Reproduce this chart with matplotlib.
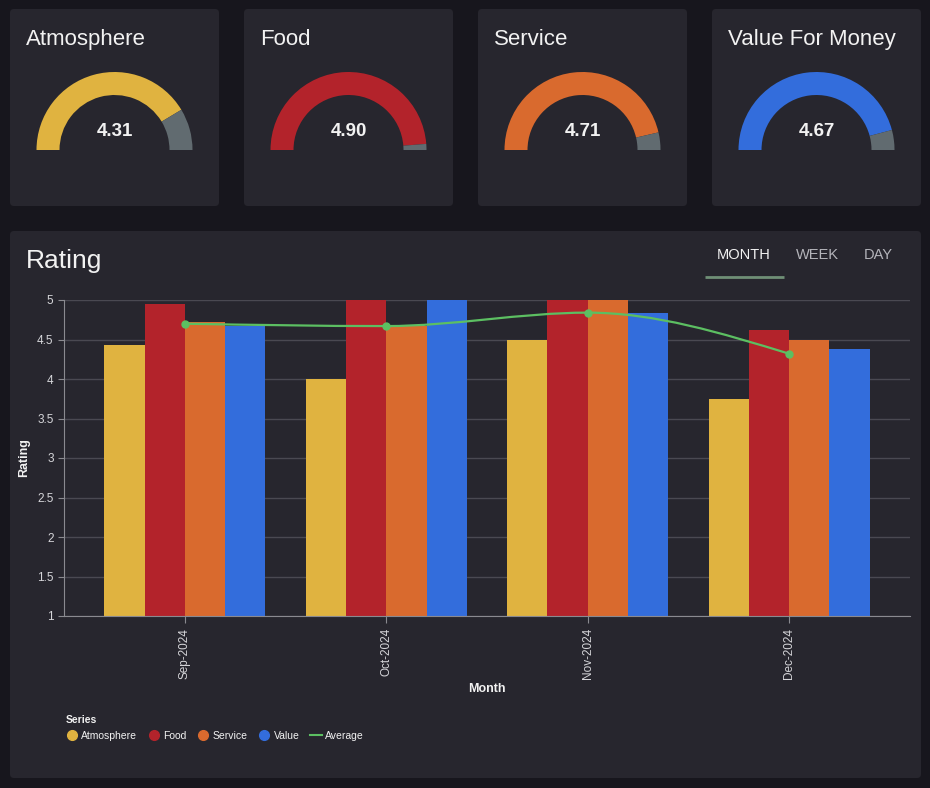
import numpy as np
import matplotlib
matplotlib.use("Agg")
import matplotlib.pyplot as plt
from matplotlib.patches import FancyBboxPatch, Wedge, PathPatch
from matplotlib.path import Path
from matplotlib.lines import Line2D

plt.rcParams["font.family"] = ["Liberation Sans", "DejaVu Sans"]

# gauge cards
gauge_titles = ["Atmosphere", "Food", "Service", "Value For Money"]
gauge_values = [4.31, 4.90, 4.71, 4.67]
gauge_min, gauge_max = 1, 5

# bar chart
months = ["Sep-2024", "Oct-2024", "Nov-2024", "Dec-2024"]
atmosphere = [4.43, 4.00, 4.50, 3.75]
food = [4.95, 5.00, 5.00, 4.62]
service = [4.72, 4.67, 5.00, 4.50]
value = [4.67, 5.00, 4.83, 4.38]
average = [4.70, 4.67, 4.84, 4.32]
series_names = ["Atmosphere", "Food", "Service", "Value"]
y_ticks = [1, 1.5, 2, 2.5, 3, 3.5, 4, 4.5, 5]
tabs = ["MONTH", "WEEK", "DAY"]

COLORS = ["#e0b340", "#b3232b", "#d96a2e", "#336ddc"]
GRAY = "#616b70"
GREEN = "#5cbf62"
BG = "#17161d"
CARD = "#27262e"
TEXT = "#f2f2f2"
MUTED = "#d6d6da"
GRID = "#4a4952"


def monotone_path(xs, ys):
    """Cubic bezier path through points using monotone-x tangents."""
    xs = np.asarray(xs, float)
    ys = np.asarray(ys, float)
    h = np.diff(xs)
    s = np.diff(ys) / h
    t = np.zeros(len(xs))
    for i in range(1, len(xs) - 1):
        p = (s[i - 1] * h[i] + s[i] * h[i - 1]) / (h[i - 1] + h[i])
        t[i] = (np.sign(s[i - 1]) + np.sign(s[i])) * min(abs(s[i - 1]), abs(s[i]), 0.5 * abs(p))
    t[0] = (3 * s[0] - t[1]) / 2
    t[-1] = (3 * s[-1] - t[-2]) / 2
    verts = [(xs[0], ys[0])]
    codes = [Path.MOVETO]
    for i in range(len(xs) - 1):
        d = h[i] / 3
        verts += [(xs[i] + d, ys[i] + t[i] * d),
                  (xs[i + 1] - d, ys[i + 1] - t[i + 1] * d),
                  (xs[i + 1], ys[i + 1])]
        codes += [Path.CURVE4] * 3
    return Path(verts, codes)


fig = plt.figure(figsize=(9.3, 7.88), dpi=100, facecolor=BG)

# background layer in pixel coordinates
bg = fig.add_axes([0, 0, 1, 1], zorder=0)
bg.set_xlim(0, 930)
bg.set_ylim(788, 0)
bg.axis("off")
bg.set_facecolor(BG)

card_w, card_h, step = 209, 197, 234
for i, (title, val) in enumerate(zip(gauge_titles, gauge_values)):
    x0 = 10 + i * step
    bg.add_patch(FancyBboxPatch((x0, 9), card_w, card_h,
                                boxstyle="round,pad=0,rounding_size=4",
                                fc=CARD, ec="none"))
    bg.text(x0 + 16, 39, title, color=TEXT, fontsize=16, va="center", ha="left")
    cx, cy = x0 + card_w / 2, 150
    frac = (val - gauge_min) / (gauge_max - gauge_min)
    split = 180 + frac * 180
    bg.add_patch(Wedge((cx, cy), 78, 180, split, width=23, fc=COLORS[i], ec="none"))
    bg.add_patch(Wedge((cx, cy), 78, split, 360, width=23, fc=GRAY, ec="none"))
    bg.text(cx, 131, f"{val:.2f}", color=TEXT, fontsize=13.5, fontweight="bold",
            ha="center", va="center")

# main panel
bg.add_patch(FancyBboxPatch((10, 231), 911, 547,
                            boxstyle="round,pad=0,rounding_size=4",
                            fc=CARD, ec="none"))
bg.text(26, 261, "Rating", color=TEXT, fontsize=19, va="center", ha="left")
for name, tx in zip(tabs, [744, 817, 878]):
    bg.text(tx, 255, name, color=TEXT if name == "MONTH" else "#b4b4ba",
            fontsize=10.5, ha="center", va="center")
bg.plot([705, 784], [277, 277], color="#6f8f76", lw=2, solid_capstyle="butt")

# bar chart
ax = fig.add_axes([64 / 930, 1 - 616 / 788, 846 / 930, 316 / 788], zorder=1)
ax.set_facecolor("none")
x = np.arange(len(months))
width = 0.2
for k, (vals, c) in enumerate(zip([atmosphere, food, service, value], COLORS)):
    ax.bar(x + (k - 1.5) * width, np.array(vals) - 1, width, bottom=1,
           color=c, zorder=2, linewidth=0)

ax.add_patch(PathPatch(monotone_path(x, average), fill=False,
                       edgecolor=GREEN, lw=1.6, zorder=3))
ax.plot(x, average, "o", color=GREEN, ms=5, zorder=4)

ax.set_xlim(-0.6, 3.6)
ax.set_ylim(1, 5)
ax.set_yticks(y_ticks)
ax.set_yticklabels([f"{t:g}" for t in y_ticks])
ax.set_xticks(x)
ax.set_xticklabels(months, rotation=90)
ax.grid(axis="y", color=GRID, lw=1, zorder=0)
ax.set_axisbelow(True)
for side in ["top", "right"]:
    ax.spines[side].set_visible(False)
for side in ["left", "bottom"]:
    ax.spines[side].set_color("#8a8a90")
ax.tick_params(axis="y", colors=MUTED, labelsize=8.5, length=4, color="#8a8a90")
ax.tick_params(axis="x", colors=MUTED, labelsize=8.5, length=5, color="#8a8a90")
ax.set_xlabel("Month", color=TEXT, fontsize=9, fontweight="bold", labelpad=3)
ax.set_ylabel("Rating", color=TEXT, fontsize=9, fontweight="bold", labelpad=5)

handles = [Line2D([], [], ls="none", marker="o", ms=7, color=c) for c in COLORS]
handles.append(Line2D([], [], color=GREEN, lw=1.5))
leg = fig.legend(handles, series_names + ["Average"], title="Series",
                 loc="lower left", bbox_to_anchor=(56 / 930, 1 - 750 / 788),
                 ncol=5, frameon=False, fontsize=7.5, handlelength=1.2,
                 handletextpad=0.3, columnspacing=1.0, alignment="left",
                 title_fontproperties={"weight": "bold", "size": 7.5})
leg.get_title().set_color(TEXT)
for t in leg.get_texts():
    t.set_color(TEXT)

fig.savefig("out.png", dpi=100, facecolor=BG)
